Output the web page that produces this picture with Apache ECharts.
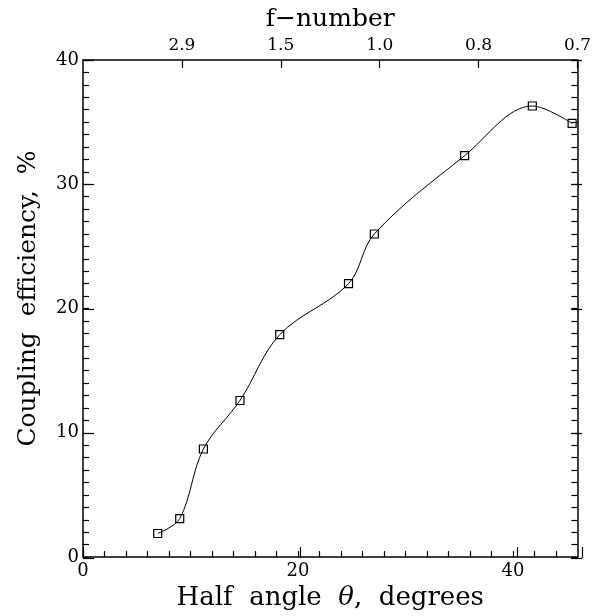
<!DOCTYPE html>
<html>
<head>
<meta charset="utf-8">
<script src="https://cdn.jsdelivr.net/npm/echarts@6/dist/echarts.min.js"></script>
<style>
  html, body { margin: 0; padding: 0; background: #fff; }
  #chart { width: 594px; height: 616px; }
</style>
</head>
<body>
<div id="chart"></div>
<script>
// half angle (degrees) vs coupling efficiency (%)
var halfAngle = [6.95, 9.0, 11.2, 14.6, 18.3, 24.7, 27.1, 35.5, 41.8, 45.5];
var efficiency = [1.9, 3.1, 8.7, 12.6, 17.9, 22.0, 26.0, 32.3, 36.3, 34.9];
// f-number labels on the top axis (evenly spaced ticks)
var fNumberLabels = ['', '2.9', '1.5', '1.0', '0.8', '0.7'];
var fStep = 9.2;

var font = 'DejaVu Serif';
var black = '#000';

var chart = echarts.init(document.getElementById('chart'));

var points = halfAngle.map(function (x, i) { return [x, efficiency[i]]; });

// plain tick-only axis; grid 1 just carries the longer major ticks
function tickAxis(grid, pos, max, interval, len, withLine) {
  return {
    type: 'value', gridIndex: grid, position: pos, min: 0, max: max, interval: interval,
    axisLine: { show: withLine, onZero: false, lineStyle: { color: black, width: 1.5 } },
    axisTick: { show: true, inside: true, length: len, lineStyle: { color: black, width: 1.2 } },
    axisLabel: { show: false },
    splitLine: { show: false }
  };
}

var xBottom = tickAxis(0, 'bottom', 46, 2, 6, true);
xBottom.name = 'Half  angle  {i|θ},  degrees';
xBottom.nameLocation = 'middle';
xBottom.nameGap = 27;
xBottom.nameTextStyle = {
  fontFamily: font, fontSize: 26, color: black,
  rich: { i: { fontFamily: font, fontStyle: 'italic', fontSize: 26, color: black } }
};
xBottom.axisLabel = {
  show: true, fontFamily: font, fontSize: 18, color: black, margin: 5,
  showMaxLabel: false,
  formatter: function (v) { return v % 20 === 0 ? String(v) : ''; }
};

var xTop = tickAxis(0, 'top', 46, fStep, 8, true);
xTop.name = 'f\u2212number';
xTop.nameLocation = 'middle';
xTop.nameGap = 26;
xTop.nameTextStyle = { fontFamily: font, fontSize: 25, color: black };
xTop.axisLabel = {
  show: true, fontFamily: font, fontSize: 17, color: black, margin: 6,
  showMinLabel: false, showMaxLabel: true,
  formatter: function (v) { return fNumberLabels[Math.round(v / fStep)] || ''; }
};

var yLeft = tickAxis(0, 'left', 40, 1, 6, true);
yLeft.name = 'Coupling  efficiency,  %';
yLeft.nameLocation = 'middle';
yLeft.nameGap = 42;
yLeft.nameTextStyle = { fontFamily: font, fontSize: 25, color: black, padding: [0, 0, 0, 20] };
yLeft.axisLabel = {
  show: true, fontFamily: font, fontSize: 18, color: black, margin: 4,
  formatter: function (v) { return v % 10 === 0 ? String(v) : ''; }
};

var gridBox = { left: 83, right: 12, top: 60, bottom: 58, containLabel: false };

chart.setOption({
  animation: false,
  backgroundColor: '#fff',
  grid: [gridBox, Object.assign({}, gridBox)],
  xAxis: [
    xBottom,
    xTop,
    tickAxis(1, 'bottom', 46, 20, 11, false)
  ],
  yAxis: [
    yLeft,
    tickAxis(0, 'right', 40, 1, 6, true),
    tickAxis(1, 'left', 40, 10, 11, false),
    tickAxis(1, 'right', 40, 10, 11, false)
  ],
  series: [
    {
      type: 'line',
      xAxisIndex: 0,
      yAxisIndex: 0,
      data: points,
      smooth: 0.35,
      symbol: 'rect',
      symbolSize: 8,
      showAllSymbol: true,
      lineStyle: { color: black, width: 1 },
      itemStyle: { color: 'rgba(255,255,255,0)', borderColor: black, borderWidth: 1.2 },
      clip: false
    }
  ]
});
</script>
</body>
</html>
